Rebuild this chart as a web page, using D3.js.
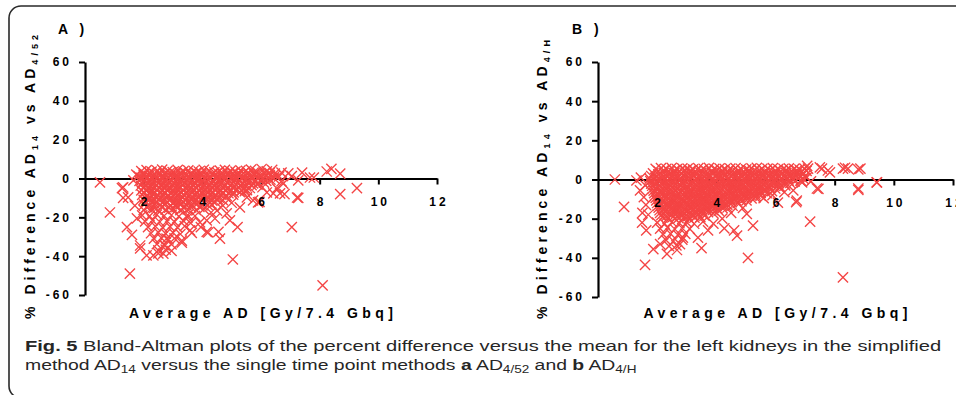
<!DOCTYPE html>
<html>
<head>
<meta charset="utf-8">
<script src="https://cdn.jsdelivr.net/npm/d3@7"></script>
<style>
  body { margin: 0; background: #fff; }
  svg { display: block; }
</style>
</head>
<body>
<svg id="chart" width="956" height="395"></svg>
<script>
// ticks
const xTicks = [2, 4, 6, 8, 10, 12];
const yTicks = [-60, -40, -20, 0, 20, 40, 60];

// panel A : AD14 vs AD4/52 -- dense core, read row by row
const aCore = [
  [1.92,3.8],[2.10,4.3],[2.27,3.5],[2.46,4.1],[2.63,4.6],[2.81,3.9],[2.99,3.3],[3.16,4.4],[3.35,3.7],[3.52,4.2],[3.70,4.0],[3.88,3.6],[4.05,4.5],[4.24,3.9],[4.41,3.2],[4.60,4.1],[4.77,4.4],[4.95,3.8],[5.13,3.5],[5.30,4.2],[5.49,3.9],[5.66,4.6],[5.84,3.4],[6.02,4.9],[6.20,3.7],[6.38,4.4],
  [1.82,1.2],[2.00,1.9],[2.18,1.4],[2.35,0.9],[2.54,1.7],[2.72,2.1],[2.90,1.3],[3.07,1.0],[3.26,1.8],[3.43,1.5],[3.61,2.0],[3.80,1.1],[3.97,1.6],[4.15,1.4],[4.33,2.2],[4.51,0.8],[4.69,1.5],[4.86,1.9],[5.05,1.2],[5.23,1.7],[5.40,1.0],[5.58,1.6],[5.77,2.1],[5.95,1.3],[6.12,0.9],[6.30,1.8],[6.48,1.4],[6.62,1.1],
  [1.86,-1.2],[2.04,-0.6],[2.22,-1.5],[2.40,-0.9],[2.58,-1.3],[2.76,-0.4],[2.94,-1.1],[3.12,-1.6],[3.30,-0.7],[3.48,-1.0],[3.66,-1.4],[3.84,-0.5],[4.02,-1.2],[4.20,-0.8],[4.38,-1.7],[4.56,-1.0],[4.74,-0.6],[4.92,-1.3],[5.10,-0.9],[5.28,-1.5],[5.46,-0.7],[5.64,-1.1],[5.82,-1.4],[6.00,-0.8],[6.18,-1.2],[6.32,-0.6],
  [1.90,-3.6],[2.08,-3.1],[2.26,-4.0],[2.44,-3.3],[2.62,-3.8],[2.80,-3.0],[2.98,-3.5],[3.16,-4.1],[3.34,-3.2],[3.52,-3.7],[3.70,-3.4],[3.88,-3.9],[4.06,-3.1],[4.24,-3.6],[4.42,-4.0],[4.60,-3.3],[4.78,-3.8],[4.96,-3.5],[5.14,-3.0],[5.32,-3.7],[5.50,-4.1],[5.68,-3.4],[5.88,-3.2],
  [1.92,-6.1],[2.10,-5.6],[2.28,-6.4],[2.46,-5.8],[2.64,-6.2],[2.82,-5.5],[3.00,-6.6],[3.18,-5.9],[3.36,-6.3],[3.54,-5.7],[3.72,-6.0],[3.90,-6.5],[4.08,-5.6],[4.26,-6.2],[4.44,-5.9],[4.62,-6.4],[4.80,-5.7],[4.98,-6.1],[5.16,-5.8],[5.34,-6.3],[5.52,-6.0],
  [1.95,-8.4],[2.13,-8.9],[2.31,-8.1],[2.49,-8.7],[2.67,-8.3],[2.85,-9.0],[3.03,-8.5],[3.21,-8.2],[3.39,-8.8],[3.57,-8.4],[3.75,-8.0],[3.93,-8.9],[4.11,-8.6],[4.29,-8.2],[4.47,-8.7],[4.65,-8.4],[4.83,-9.0],[5.05,-8.3],
  [2.00,-11.0],[2.18,-10.6],[2.36,-11.4],[2.54,-10.8],[2.72,-11.2],[2.90,-10.5],[3.08,-11.5],[3.26,-10.9],[3.44,-11.1],[3.62,-10.7],[3.80,-11.3],[3.98,-10.8],[4.16,-11.0],[4.34,-11.4],[4.52,-10.6],[4.70,-11.1],
  [2.02,-13.4],[2.20,-13.9],[2.38,-13.1],[2.56,-13.7],[2.74,-13.3],[2.92,-14.0],[3.10,-13.5],[3.28,-13.2],[3.46,-13.8],[3.64,-13.4],[3.82,-13.0],[4.00,-13.9],[4.18,-13.6],[4.32,-13.3]
];

// panel A : points lying between the rows above
const aCore2 = [
  [2.01,2.6],[2.19,3.0],[2.37,2.3],[2.55,2.8],[2.72,2.5],[2.90,3.1],[3.08,2.4],[3.26,2.9],[3.44,2.7],[3.61,2.2],[3.79,3.0],[3.97,2.6],[4.15,2.8],[4.33,2.4],[4.51,3.1],[4.69,2.5],[4.86,2.7],[5.04,2.9],[5.22,2.3],[5.40,2.8],[5.58,2.6],[5.75,3.0],[5.93,2.4],[6.11,2.7],[6.29,2.9],[6.47,2.5],
  [1.91,0.3],[2.09,-0.2],[2.27,0.5],[2.45,0.0],[2.63,0.4],[2.81,-0.3],[2.99,0.2],[3.17,0.6],[3.35,-0.1],[3.53,0.3],[3.71,0.1],[3.89,0.5],[4.07,-0.2],[4.25,0.2],[4.43,0.4],[4.61,-0.1],[4.79,0.3],[4.97,0.0],[5.15,0.5],[5.33,0.1],[5.51,-0.3],[5.69,0.4],[5.87,0.2],[6.05,0.0],[6.23,0.3],[6.45,0.1],
  [1.95,-2.2],[2.13,-2.6],[2.31,-2.0],[2.49,-2.4],[2.67,-2.1],[2.85,-2.7],[3.03,-2.3],[3.21,-1.9],[3.39,-2.5],[3.57,-2.2],[3.75,-2.0],[3.93,-2.6],[4.11,-2.4],[4.29,-2.1],[4.47,-2.5],[4.65,-2.3],[4.83,-2.0],[5.01,-2.6],[5.19,-2.2],[5.37,-2.4],[5.55,-1.9],[5.73,-2.5],[5.91,-2.3],[6.10,-2.1],
  [1.99,-4.8],[2.17,-5.2],[2.35,-4.5],[2.53,-5.0],[2.71,-4.7],[2.89,-5.3],[3.07,-4.9],[3.25,-4.4],[3.43,-5.1],[3.61,-4.8],[3.79,-4.6],[3.97,-5.2],[4.15,-4.9],[4.33,-4.5],[4.51,-5.0],[4.69,-4.7],[4.87,-5.3],[5.05,-4.8],[5.23,-4.6],[5.41,-5.1],[5.62,-4.9],
  [2.01,-7.2],[2.19,-7.6],[2.37,-7.0],[2.55,-7.5],[2.73,-7.1],[2.91,-7.7],[3.09,-7.3],[3.27,-6.9],[3.45,-7.6],[3.63,-7.2],[3.81,-7.0],[3.99,-7.5],[4.17,-7.3],[4.35,-6.9],[4.53,-7.4],[4.71,-7.1],[4.89,-7.6],[5.07,-7.2],[5.28,-7.0],
  [2.04,-9.7],[2.22,-10.1],[2.40,-9.5],[2.58,-10.0],[2.76,-9.6],[2.94,-10.2],[3.12,-9.8],[3.30,-9.4],[3.48,-10.1],[3.66,-9.7],[3.84,-9.5],[4.02,-10.0],[4.20,-9.8],[4.38,-9.4],[4.56,-9.9],[4.80,-9.6],
  [2.09,-12.2],[2.27,-12.6],[2.45,-12.0],[2.63,-12.5],[2.81,-12.1],[2.99,-12.7],[3.17,-12.3],[3.35,-11.9],[3.53,-12.6],[3.71,-12.2],[3.89,-12.0],[4.07,-12.5],[4.25,-12.3],[4.45,-12.1],
  [2.11,-14.8],[2.36,-15.1],[2.62,-14.6],[2.87,-15.0],[3.12,-14.7],[3.37,-15.2],[3.62,-14.9],[3.90,-14.6]
];

// panel A : looser lower part of the cloud
const aSpread = [
  [2.00,-16.2],[2.25,-15.8],[2.50,-16.5],[2.75,-16.0],[3.00,-15.6],[3.25,-16.3],[3.50,-15.9],[3.80,-16.4],[4.05,-15.8],
  [1.95,-19.0],[2.20,-19.4],[2.45,-18.6],[2.70,-19.2],[2.95,-18.8],[3.20,-19.5],[3.50,-18.9],[3.75,-19.3],
  [2.05,-22.1],[2.30,-21.6],[2.55,-22.4],[2.80,-21.9],[3.05,-22.3],[3.35,-21.7],[3.60,-23.0],
  [2.15,-25.0],[2.40,-24.6],[2.65,-25.3],[2.90,-24.8],[3.15,-25.2],[3.40,-24.5],
  [2.25,-28.2],[2.50,-27.7],[2.75,-28.4],[3.00,-27.9],[3.25,-28.6],
  [2.35,-31.0],[2.60,-30.6],[2.85,-31.3],[3.05,-30.8],
  [2.45,-33.8],[2.70,-34.3],[2.95,-33.9],
  [2.50,-37.0],[2.75,-36.6],[2.95,-37.3]
];

// panel A : scattered points
const aScatter = [
  [0.51,-2.0],[0.85,-17.5],[1.53,-49.0],[8.10,-55.0],[5.04,-41.7],[7.05,-25.0],[7.27,-10.0],[8.70,-8.0],[9.27,-5.0],
  [8.24,3.6],[8.40,5.0],[8.70,2.5],[7.80,0.5],[6.80,-8.0],[4.60,-31.0],[5.20,-25.0],[4.94,-21.6],[3.30,-32.0],
  [4.15,-27.5],[3.64,-28.0],[4.55,-27.5],[1.43,-25.0],[1.60,-29.0],[1.88,-36.0],[2.33,-39.6],[2.67,-38.7],
  [1.30,-4.6],[1.47,-9.7],[1.26,-5.0],[1.30,-10.0],[1.77,-20.5],[1.88,-34.5],[2.10,-39.6],[2.50,-38.6],
  [2.73,-34.5],[2.78,-31.0],[3.58,-26.7],[3.30,-33.0],[4.20,-27.8],[4.43,-20.6],[3.92,-22.6],[3.50,-20.0],
  [5.73,-11.3],[5.95,-12.0],[5.28,-14.9],[5.52,-9.7],[6.42,-7.7],[6.54,-5.1],[6.76,-2.6],[6.20,-7.2],
  [4.83,-18.0],[4.50,-16.5],[4.15,-21.6],[6.70,3.0],[6.93,2.6],[7.40,3.0],[7.67,0.5],[7.27,-1.0],
  [6.70,-1.5],[7.05,1.2],[6.65,-7.7],[7.23,-9.8],[5.90,-12.3],[1.70,-14.0],[1.75,2.0],[1.65,-1.0],
  [4.70,-14.0],[5.00,-12.5],[4.30,-17.5],[3.95,-25.0],[5.45,-6.5],[6.05,-4.5]
];

// panel B : AD14 vs AD4/H -- dense core
const bCore = [
  [1.95,5.4],[2.13,5.8],[2.31,5.5],[2.49,5.9],[2.67,5.3],[2.85,5.7],[3.03,5.6],[3.21,5.2],[3.39,5.8],[3.57,5.5],[3.75,5.9],[3.93,5.4],[4.11,5.7],[4.29,5.3],[4.47,5.6],[4.65,5.8],[4.83,5.5],[5.01,5.2],[5.19,5.7],[5.37,5.9],[5.55,5.4],[5.73,5.6],[5.91,5.8],[6.09,5.3],[6.27,5.5],[6.45,5.7],[6.63,5.4],[6.81,5.1],[6.98,5.6],
  [1.86,3.1],[2.04,2.6],[2.22,3.4],[2.40,2.9],[2.58,3.3],[2.76,2.5],[2.94,3.0],[3.12,3.5],[3.30,2.7],[3.48,3.2],[3.66,2.8],[3.84,3.4],[4.02,2.6],[4.20,3.1],[4.38,3.5],[4.56,2.9],[4.74,3.2],[4.92,2.7],[5.10,3.3],[5.28,2.8],[5.46,3.0],[5.64,3.4],[5.82,2.6],[6.00,3.1],[6.18,2.9],[6.36,3.3],[6.54,2.7],[6.72,3.0],[6.90,2.8],
  [1.75,0.4],[1.93,0.9],[2.11,0.2],[2.29,0.7],[2.47,0.5],[2.65,1.0],[2.83,0.3],[3.01,0.6],[3.19,0.8],[3.37,0.1],[3.55,0.5],[3.73,0.9],[3.91,0.4],[4.09,0.7],[4.27,0.2],[4.45,0.6],[4.63,1.0],[4.81,0.3],[4.99,0.5],[5.17,0.8],[5.35,0.4],[5.53,0.1],[5.71,0.7],[5.89,0.5],[6.07,0.9],[6.25,0.2],[6.43,0.6],[6.61,0.4],[6.79,0.8],[6.95,0.3],
  [1.80,-2.1],[1.98,-1.6],[2.16,-2.4],[2.34,-1.9],[2.52,-2.3],[2.70,-1.5],[2.88,-2.0],[3.06,-2.5],[3.24,-1.7],[3.42,-2.2],[3.60,-1.8],[3.78,-2.4],[3.96,-1.6],[4.14,-2.1],[4.32,-2.5],[4.50,-1.9],[4.68,-2.2],[4.86,-1.7],[5.04,-2.3],[5.22,-1.8],[5.40,-2.0],[5.58,-2.4],[5.76,-1.6],[5.94,-2.1],[6.12,-1.9],[6.30,-2.3],[6.50,-1.8],
  [1.85,-4.6],[2.03,-4.1],[2.21,-4.9],[2.39,-4.3],[2.57,-4.8],[2.75,-4.0],[2.93,-4.5],[3.11,-5.0],[3.29,-4.2],[3.47,-4.7],[3.65,-4.4],[3.83,-4.9],[4.01,-4.1],[4.19,-4.6],[4.37,-5.0],[4.55,-4.3],[4.73,-4.7],[4.91,-4.2],[5.09,-4.8],[5.27,-4.4],[5.45,-4.5],[5.63,-4.9],[5.81,-4.1],[5.99,-4.6],[6.14,-4.3],
  [1.90,-7.0],[2.08,-6.6],[2.26,-7.4],[2.44,-6.8],[2.62,-7.2],[2.80,-6.5],[2.98,-7.5],[3.16,-6.9],[3.34,-7.1],[3.52,-6.7],[3.70,-7.3],[3.88,-6.8],[4.06,-7.0],[4.24,-7.4],[4.42,-6.6],[4.60,-7.1],[4.78,-6.9],[4.96,-7.3],[5.14,-6.7],[5.32,-7.2],[5.50,-6.8],[5.70,-7.0],
  [1.95,-9.4],[2.13,-9.9],[2.31,-9.1],[2.49,-9.7],[2.67,-9.3],[2.85,-10.0],[3.03,-9.5],[3.21,-9.2],[3.39,-9.8],[3.57,-9.4],[3.75,-9.0],[3.93,-9.9],[4.11,-9.6],[4.29,-9.2],[4.47,-9.7],[4.65,-9.4],[4.83,-10.0],[5.01,-9.3],[5.19,-9.6],[5.32,-9.1],
  [2.00,-12.0],[2.18,-11.6],[2.36,-12.4],[2.54,-11.8],[2.72,-12.2],[2.90,-11.5],[3.08,-12.5],[3.26,-11.9],[3.44,-12.1],[3.62,-11.7],[3.80,-12.3],[3.98,-11.8],[4.16,-12.0],[4.34,-12.4],[4.52,-11.6],[4.72,-12.1],
  [2.05,-14.4],[2.23,-14.9],[2.41,-14.1],[2.59,-14.7],[2.77,-14.3],[2.95,-15.0],[3.13,-14.5],[3.31,-14.2],[3.49,-14.8],[3.67,-14.4],[3.85,-14.0],[4.03,-14.9],[4.21,-14.6],[4.38,-14.3],
  [2.10,-17.0],[2.28,-16.6],[2.46,-17.4],[2.64,-16.8],[2.82,-17.2],[3.00,-16.5],[3.18,-17.5],[3.36,-16.9],[3.54,-17.1],[3.72,-16.7],[3.90,-17.3],
  [2.18,-19.4],[2.36,-19.9],[2.54,-19.1],[2.72,-19.7],[2.90,-19.3],[3.08,-20.0],[3.26,-19.5],[3.46,-19.2]
];

// panel B : points lying between the rows above
const bCore2 = [
  [2.04,4.3],[2.22,4.7],[2.40,4.1],[2.58,4.5],[2.76,4.2],[2.94,4.8],[3.12,4.4],[3.30,4.0],[3.48,4.6],[3.66,4.3],[3.84,4.1],[4.02,4.7],[4.20,4.5],[4.38,4.2],[4.56,4.6],[4.74,4.4],[4.92,4.0],[5.10,4.7],[5.28,4.3],[5.46,4.5],[5.64,4.1],[5.82,4.6],[6.00,4.4],[6.18,4.2],[6.36,4.8],[6.54,4.3],[6.72,4.5],[6.90,4.1],[7.05,4.4],
  [1.80,1.8],[1.98,1.4],[2.16,2.1],[2.34,1.6],[2.52,2.0],[2.70,1.3],[2.88,1.9],[3.06,1.5],[3.24,2.2],[3.42,1.7],[3.60,1.4],[3.78,2.0],[3.96,1.8],[4.14,1.5],[4.32,2.1],[4.50,1.6],[4.68,1.9],[4.86,1.3],[5.04,1.7],[5.22,2.0],[5.40,1.5],[5.58,1.8],[5.76,2.2],[5.94,1.6],[6.12,1.4],[6.30,1.9],[6.48,1.7],[6.66,2.1],[6.84,1.5],[7.00,1.8],
  [1.77,-0.8],[1.95,-1.2],[2.13,-0.5],[2.31,-1.0],[2.49,-0.7],[2.67,-1.3],[2.85,-0.9],[3.03,-0.4],[3.21,-1.1],[3.39,-0.8],[3.57,-0.6],[3.75,-1.2],[3.93,-1.0],[4.11,-0.5],[4.29,-1.1],[4.47,-0.9],[4.65,-0.6],[4.83,-1.3],[5.01,-0.8],[5.19,-1.0],[5.37,-0.5],[5.55,-1.2],[5.73,-0.9],[5.91,-0.7],[6.09,-1.1],[6.27,-0.8],[6.45,-0.6],[6.65,-1.0],[6.85,-0.7],
  [1.83,-3.2],[2.01,-3.6],[2.19,-3.0],[2.37,-3.5],[2.55,-3.1],[2.73,-3.7],[2.91,-3.3],[3.09,-2.9],[3.27,-3.6],[3.45,-3.2],[3.63,-3.0],[3.81,-3.5],[3.99,-3.3],[4.17,-2.9],[4.35,-3.4],[4.53,-3.1],[4.71,-3.6],[4.89,-3.2],[5.07,-3.0],[5.25,-3.5],[5.43,-3.3],[5.61,-2.9],[5.79,-3.4],[5.97,-3.2],[6.15,-3.6],[6.33,-3.0],
  [1.88,-5.7],[2.06,-6.1],[2.24,-5.5],[2.42,-6.0],[2.60,-5.6],[2.78,-6.2],[2.96,-5.8],[3.14,-5.4],[3.32,-6.1],[3.50,-5.7],[3.68,-5.5],[3.86,-6.0],[4.04,-5.8],[4.22,-5.4],[4.40,-5.9],[4.58,-5.6],[4.76,-6.1],[4.94,-5.7],[5.12,-5.5],[5.30,-6.0],[5.48,-5.8],[5.66,-5.4],[5.88,-5.9],
  [1.92,-8.2],[2.10,-8.6],[2.28,-8.0],[2.46,-8.5],[2.64,-8.1],[2.82,-8.7],[3.00,-8.3],[3.18,-7.9],[3.36,-8.6],[3.54,-8.2],[3.72,-8.0],[3.90,-8.5],[4.08,-8.3],[4.26,-7.9],[4.44,-8.4],[4.62,-8.1],[4.80,-8.6],[4.98,-8.2],[5.16,-8.0],[5.34,-8.5],[5.50,-8.3],
  [1.97,-10.7],[2.15,-11.1],[2.33,-10.5],[2.51,-11.0],[2.69,-10.6],[2.87,-11.2],[3.05,-10.8],[3.23,-10.4],[3.41,-11.1],[3.59,-10.7],[3.77,-10.5],[3.95,-11.0],[4.13,-10.8],[4.31,-10.4],[4.49,-10.9],[4.67,-10.6],[4.85,-11.1],[5.02,-10.7],
  [2.03,-13.2],[2.21,-13.6],[2.39,-13.0],[2.57,-13.5],[2.75,-13.1],[2.93,-13.7],[3.11,-13.3],[3.29,-12.9],[3.47,-13.6],[3.65,-13.2],[3.83,-13.0],[4.01,-13.5],[4.19,-13.3],[4.37,-12.9],[4.55,-13.4],
  [2.08,-15.7],[2.26,-16.1],[2.44,-15.5],[2.62,-16.0],[2.80,-15.6],[2.98,-16.2],[3.16,-15.8],[3.34,-15.4],[3.52,-16.1],[3.70,-15.7],[3.88,-15.5],[4.08,-15.9],
  [2.14,-18.2],[2.32,-18.6],[2.50,-18.0],[2.68,-18.5],[2.86,-18.1],[3.04,-18.7],[3.22,-18.3],[3.40,-17.9],[3.60,-18.4]
];

// panel B : looser lower part
const bSpread = [
  [2.00,-22.0],[2.25,-22.5],[2.50,-21.7],[2.75,-22.3],[3.00,-21.9],[3.25,-22.6],[3.55,-21.5],
  [2.10,-25.1],[2.35,-24.6],[2.60,-25.4],[2.85,-24.9],[3.10,-25.2],
  [2.20,-28.0],[2.45,-27.6],[2.70,-28.3],[2.95,-27.8],
  [2.30,-31.0],[2.55,-31.4],[2.85,-30.7],
  [2.40,-34.0],[2.65,-33.6]
];

// panel B : scattered points
const bScatter = [
  [0.57,0.0],[0.88,-14.0],[1.59,-43.6],[5.07,-40.0],[3.50,-35.0],[8.28,-50.0],[7.17,-21.5],[5.24,-23.6],[5.03,-17.6],
  [4.70,-28.7],[4.60,-26.0],[4.27,-25.0],[3.72,-26.0],[3.38,-29.7],[6.70,-11.6],[7.45,-4.8],[8.80,-5.3],[9.42,-1.5],
  [8.87,5.6],[8.28,5.6],[8.45,5.6],[7.84,3.6],[7.57,5.6],[7.10,5.6],[6.90,-1.5],[6.60,-5.6],[1.30,-0.5],[1.42,-5.6],
  [1.49,-22.0],[1.63,-26.0],[1.87,-35.6],[2.10,-33.0],[2.33,-38.0],[2.67,-36.0],[2.77,-33.0],[2.87,-29.7],
  [1.55,-9.0],[1.62,-13.0],[1.50,-17.0],[1.70,-18.0],[7.07,7.0],[7.50,6.2],[7.77,4.6],[8.35,6.0],[8.80,5.2],
  [7.40,-4.6],[6.72,-10.8],[6.08,-11.8],[6.85,-0.5],[7.05,1.0],[7.20,-1.0],[8.80,-4.6],[9.43,-1.5],[1.45,1.0],
  [1.60,-3.0],[5.60,-9.5],[5.90,-8.0],[6.30,-6.5],[4.20,-20.0],[3.90,-22.5],[4.50,-17.0],[4.90,-14.5]
];

const panels = [
  { label: "A )", lx: 58, pts: [aCore, aCore2, aSpread, aScatter], x0: 85, x1: 437, yTop: 62, yBot: 295,
    ySub: "4/52", yTitleX: 35, yTitleY0: 319, yTitleLen: 284 },
  { label: "B )", lx: 572, pts: [bCore, bCore2, bSpread, bScatter], x0: 598, x1: 953, yTop: 62, yBot: 297,
    ySub: "4/H", yTitleX: 547, yTitleY0: 319, yTitleLen: 279 }
];

const red = "#f44444";
const boldFont = "'Liberation Sans', Arial, sans-serif";

const svg = d3.select("#chart");

// frame
svg.append("rect")
  .attr("x", 9).attr("y", 6)
  .attr("width", 1000).attr("height", 392)
  .attr("rx", 12)
  .attr("fill", "none")
  .attr("stroke", "#2a2a2a")
  .attr("stroke-width", 1.6);

const cross = d3.symbol().type(d3.symbolX).size(70);

panels.forEach(function (p) {
  const x = d3.scaleLinear().domain([0, 12]).range([p.x0, p.x1]);
  const y = d3.scaleLinear().domain([-60, 60]).range([p.yBot, p.yTop]);
  const g = svg.append("g");

  // y axis
  const yAx = g.append("g")
    .attr("transform", "translate(" + p.x0 + ",0)")
    .call(d3.axisLeft(y).tickValues(yTicks).tickSize(6).tickSizeOuter(0).tickPadding(10)
      .tickFormat(function (d) { return d < 0 ? "-" + Math.abs(d) : d; }));

  // x axis line + ticks (under the markers)
  const xAx = g.append("g")
    .attr("transform", "translate(0," + y(0) + ")")
    .call(d3.axisBottom(x).tickValues(xTicks).tickSize(6).tickSizeOuter(0).tickFormat(""));

  [yAx, xAx].forEach(function (a) {
    a.select(".domain").attr("stroke", "#000").attr("stroke-width", 2.2);
    a.selectAll(".tick line").attr("stroke", "#000").attr("stroke-width", 2);
  });
  yAx.selectAll("text")
    .attr("font-family", boldFont).attr("font-weight", "bold")
    .attr("font-size", 12).attr("letter-spacing", "3px")
    .attr("dx", "3px").attr("fill", "#000");

  // markers
  const all = [].concat.apply([], p.pts);
  g.append("g").selectAll("path")
    .data(all)
    .join("path")
    .attr("d", cross)
    .attr("transform", function (d) { return "translate(" + x(d[0]) + "," + y(d[1]) + ")"; })
    .attr("fill", "none")
    .attr("stroke", red)
    .attr("stroke-width", 1.35);

  // x tick labels on top
  const xLab = g.append("g")
    .attr("transform", "translate(0," + y(0) + ")")
    .call(d3.axisBottom(x).tickValues(xTicks).tickSize(0).tickPadding(19));
  xLab.select(".domain").remove();
  xLab.selectAll("text")
    .attr("font-family", boldFont).attr("font-weight", "bold")
    .attr("font-size", 12).attr("letter-spacing", "3px")
    .attr("dx", "1.5px").attr("fill", "#000");

  // panel letter
  g.append("text")
    .attr("x", p.lx).attr("y", 34)
    .attr("font-family", boldFont).attr("font-weight", "bold")
    .attr("font-size", 14).attr("letter-spacing", "4px")
    .text(p.label);

  // x title
  g.append("text")
    .attr("x", (p.x0 + p.x1) / 2 - 132).attr("y", 318)
    .attr("font-family", boldFont).attr("font-weight", "bold")
    .attr("font-size", 14)
    .attr("textLength", 264).attr("lengthAdjust", "spacing")
    .text("Average AD [Gy/7.4 Gbq]");

  // y title
  const yt = g.append("text")
    .attr("transform", "translate(" + p.yTitleX + "," + p.yTitleY0 + ") rotate(-90)")
    .attr("font-family", boldFont).attr("font-weight", "bold")
    .attr("font-size", 14)
    .attr("textLength", p.yTitleLen).attr("lengthAdjust", "spacing");
  yt.append("tspan").text("% Difference AD");
  yt.append("tspan").attr("font-size", 9).attr("dy", 3).text("14");
  yt.append("tspan").attr("dy", -3).text(" vs AD");
  yt.append("tspan").attr("font-size", 9).attr("dy", 3).text(p.ySub);
});

// caption: natural width measured, then squeezed horizontally to the reference width
const capFont = "'Liberation Sans', Arial, sans-serif";
function caption(yBase, parts, width) {
  const t = svg.append("text")
    .attr("font-family", capFont).attr("font-size", 15).attr("fill", "#262626");
  let shifted = false;
  parts.forEach(function (c) {
    const s = t.append("tspan").text(c[0]);
    if (c[1] === "sub") { s.attr("font-size", 10.5).attr("dy", 3); shifted = true; }
    else if (shifted) { s.attr("dy", -3); shifted = false; }
    if (c[1] === "b") s.attr("font-weight", "bold");
  });
  const w = t.node().getComputedTextLength();
  t.attr("transform", "translate(25," + yBase + ") scale(" + (width / w) + ",1)");
}
caption(351, [["Fig. 5", "b"], [" Bland-Altman plots of the percent difference versus the mean for the left kidneys in the simplified", null]], 917);
caption(370, [
  ["method AD", null], ["14", "sub"], [" versus the single time point methods ", null],
  ["a", "b"], [" AD", null], ["4/52", "sub"], [" and ", null], ["b", "b"], [" AD", null], ["4/H", "sub"]
], 612);
</script>
</body>
</html>
